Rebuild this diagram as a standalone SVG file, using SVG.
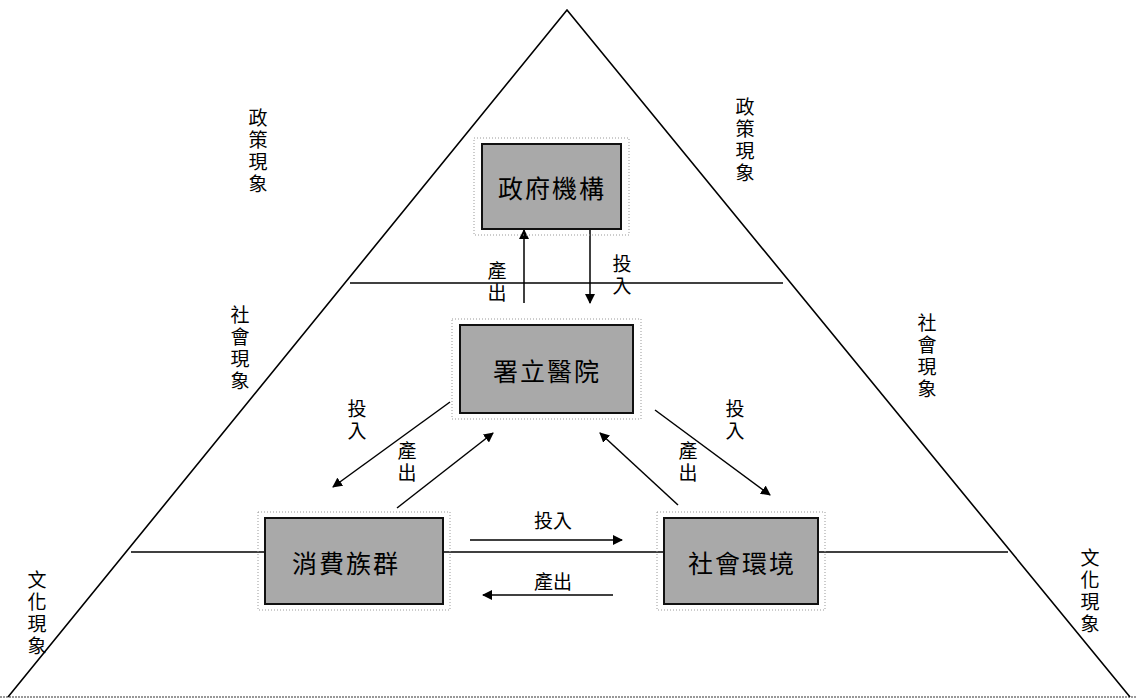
<svg xmlns="http://www.w3.org/2000/svg" width="1136" height="700" viewBox="0 0 1136 700">
<style>
.frame{fill:none;stroke:#000;stroke-width:1.6}
.base{stroke:#777;stroke-width:1.5;stroke-dasharray:2 1}
.box{fill:#a9a9a9;stroke:#111;stroke-width:2}
.halo{fill:none;stroke:#999;stroke-width:1;stroke-dasharray:1 2}
.conn{stroke:#000;stroke-width:1.5;fill:none}
.t{font-family:"Noto Sans CJK TC","Noto Sans CJK SC",sans-serif;fill:#000;text-anchor:middle;dominant-baseline:central}
.big{font-size:25px;letter-spacing:2px}
.lab{font-size:19px}
.v{font-family:"Noto Sans CJK TC","Noto Sans CJK SC",sans-serif;fill:#000;font-size:19px;letter-spacing:3px;writing-mode:vertical-rl;text-anchor:start}
</style>
<defs>
<marker id="ah" viewBox="0 0 10 10" refX="9" refY="5" markerWidth="10" markerHeight="10" markerUnits="userSpaceOnUse" orient="auto">
<path d="M0,0 L10,5 L0,10 z" fill="#000"/>
</marker>
</defs>
<rect width="1136" height="700" fill="#fff"/>
<g id="pyramid">
<line class="base" x1="0" y1="697" x2="1136" y2="697"/>
<polyline class="frame" points="8,697 567,10 1130,697"/>
<line class="frame" x1="350" y1="283" x2="783" y2="283"/>
<line class="frame" x1="131" y1="552" x2="1008" y2="552"/>
</g>
<g id="connectors">
<line class="conn" x1="524" y1="303" x2="524" y2="230" marker-end="url(#ah)"/>
<line class="conn" x1="590" y1="229" x2="590" y2="303" marker-end="url(#ah)"/>
<line class="conn" x1="450" y1="402" x2="333" y2="487" marker-end="url(#ah)"/>
<line class="conn" x1="397" y1="508" x2="493" y2="433" marker-end="url(#ah)"/>
<line class="conn" x1="678" y1="505" x2="600" y2="433" marker-end="url(#ah)"/>
<line class="conn" x1="655" y1="410" x2="770" y2="495" marker-end="url(#ah)"/>
<line class="conn" x1="470" y1="540" x2="622" y2="540" marker-end="url(#ah)"/>
<line class="conn" x1="613" y1="595" x2="483" y2="595" marker-end="url(#ah)"/>
</g>
<g id="connector-labels">
<text class="v" x="497" y="261">產出</text>
<text class="v" x="622" y="254">投入</text>
<text class="v" x="357" y="399">投入</text>
<text class="v" x="407" y="441">產出</text>
<text class="v" x="688" y="441">產出</text>
<text class="v" x="735" y="399">投入</text>
<text class="t lab" x="553" y="519">投入</text>
<text class="t lab" x="553" y="580">產出</text>
</g>
<g id="node-gov">
<rect class="halo" x="474" y="138" width="155" height="97"/>
<rect class="box" x="482" y="144" width="139" height="85"/>
<text class="t big" x="552" y="187">政府機構</text>
</g>
<g id="node-hospital">
<rect class="halo" x="452" y="319" width="189" height="100"/>
<rect class="box" x="460" y="325" width="173" height="88"/>
<text class="t big" x="547" y="370">署立醫院</text>
</g>
<g id="node-consumer">
<rect class="halo" x="258" y="512" width="192" height="98"/>
<rect class="box" x="265" y="518" width="178" height="86"/>
<text class="t big" x="346" y="562">消費族群</text>
</g>
<g id="node-society">
<rect class="halo" x="657" y="512" width="168" height="98"/>
<rect class="box" x="664" y="518" width="154" height="86"/>
<text class="t big" x="742" y="562">社會環境</text>
</g>
<g id="outer-labels">
<text class="v" x="258" y="108">政策現象</text>
<text class="v" x="745" y="97">政策現象</text>
<text class="v" x="240" y="305">社會現象</text>
<text class="v" x="927" y="313">社會現象</text>
<text class="v" x="37" y="570">文化現象</text>
<text class="v" x="1090" y="548">文化現象</text>
</g>
</svg>
